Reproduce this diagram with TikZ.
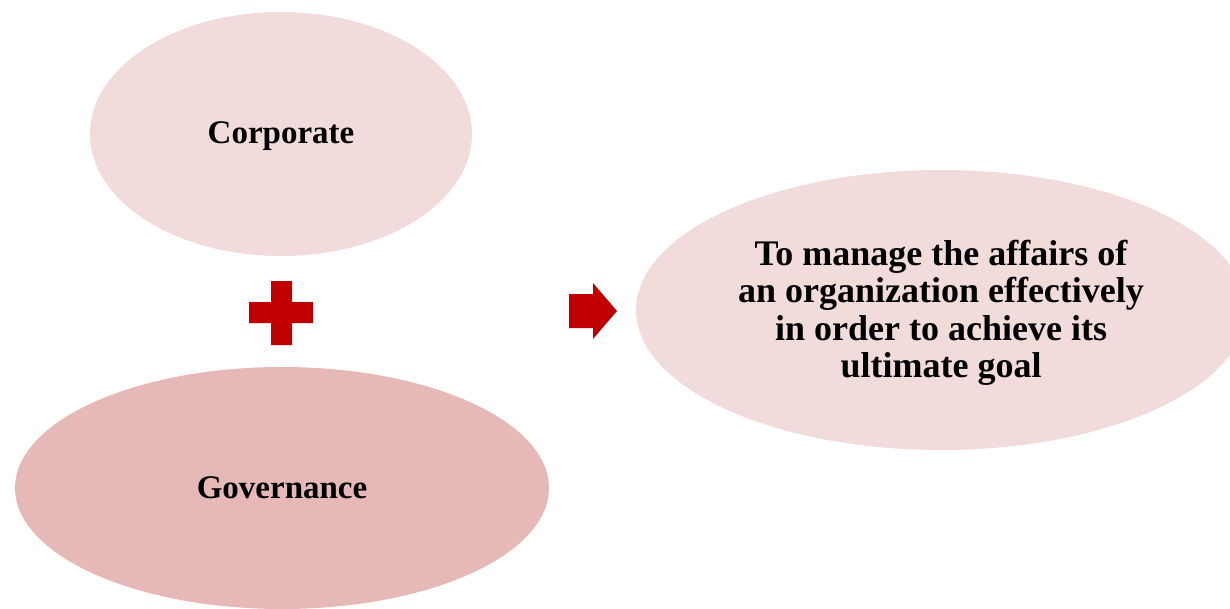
\documentclass[tikz,border=0pt]{standalone}
\usepackage{fontspec}
\setmainfont{Liberation Serif}
\usetikzlibrary{shapes.geometric}
\definecolor{palepink}{HTML}{F2DCDB}
\definecolor{rosepink}{HTML}{E6B9B8}
\definecolor{deepred}{HTML}{C00000}
\begin{document}
\begin{tikzpicture}[x=1pt,y=-1pt,
  blob/.style={ellipse,draw=none,inner sep=0pt,font=\bfseries\fontsize{33}{38}\selectfont,text=black},
  mark red/.style={fill=deepred,draw=none}]
\useasboundingbox (0,0) rectangle (1230,608);
\clip (0,0) rectangle (1230,608);

% the two words that combine
\node[blob,fill=palepink,minimum width=382,minimum height=244] (corp) at (281,134) {};
\node[font=\bfseries\fontsize{33}{38}\selectfont] (corptext) at ([yshift=-2pt]corp.center) {Corporate};
\node[blob,fill=rosepink,minimum width=534,minimum height=242] (gov) at (282,488) {Governance};

% the resulting purpose
\node[blob,fill=palepink,minimum width=610,minimum height=280] (goal) at (941,310) {};
\node[align=center,inner sep=0pt,font=\bfseries\fontsize{36}{37.5}\selectfont] (goaltext)
  at ([yshift=-3pt]goal.center)
  {To manage the affairs of\\an organization effectively\\in order to achieve its\\ultimate goal};

% plus sign between the two words
\fill[mark red] (271,281) -- (292,281) -- (292,302) -- (313,302) -- (313,323) -- (292,323)
  -- (292,345) -- (271,345) -- (271,323) -- (249,323) -- (249,302) -- (271,302) -- cycle;

% block arrow towards the purpose
\fill[mark red] (569,294) -- (593,294) -- (593,283) -- (617,311) -- (593,339) -- (593,328)
  -- (569,328) -- cycle;
\end{tikzpicture}
\end{document}
